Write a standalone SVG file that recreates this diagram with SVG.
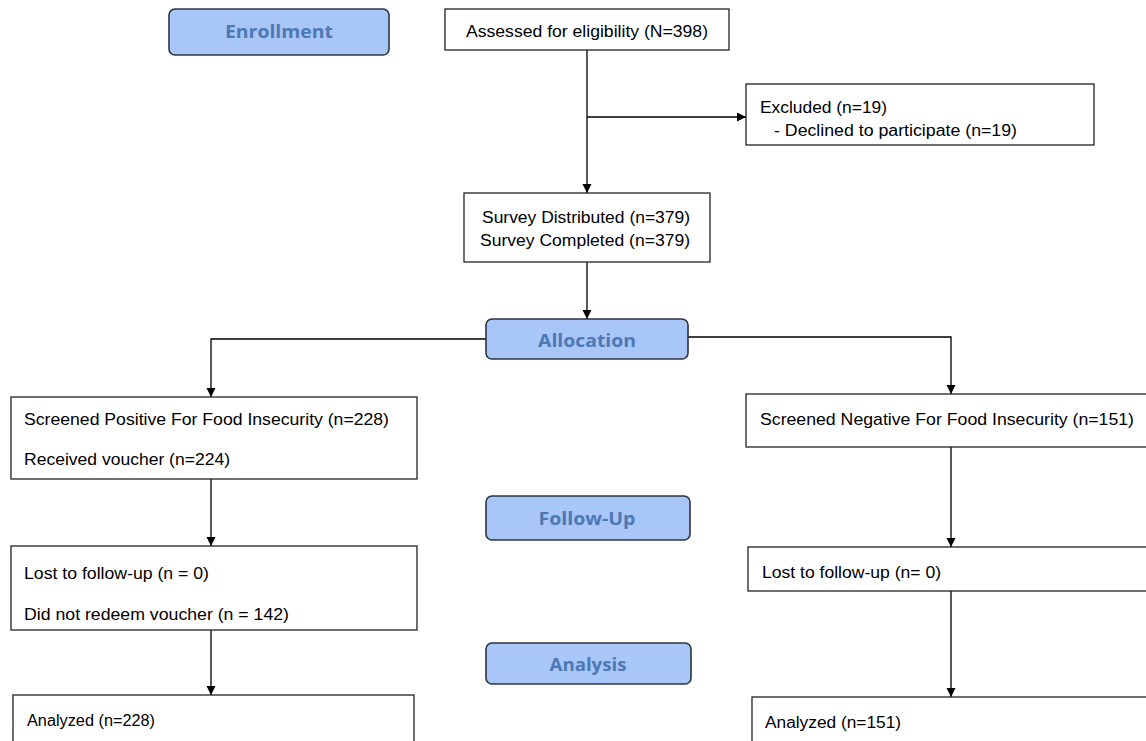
<svg xmlns="http://www.w3.org/2000/svg" width="1146" height="741" viewBox="0 0 1146 741">
<defs>
<marker id="arr" markerWidth="10" markerHeight="10" refX="9" refY="5" orient="auto" markerUnits="userSpaceOnUse">
<path d="M0,0.5 L9,5 L0,9.5 Z" fill="#000"/>
</marker>
<style>
.box{fill:#fff;stroke:#222;stroke-width:1.3}
.hdr{fill:#a8c6f8;stroke:#2b3442;stroke-width:1.6}
.t{font-family:"Liberation Sans",Arial,sans-serif;font-size:16px;fill:#000}
.h{font-family:"Open Sans","Noto Sans",sans-serif;font-weight:bold;font-size:18px;fill:#4d78b4;text-anchor:middle}
.c{fill:none;stroke:#000;stroke-width:1.3}
</style>
</defs>
<rect width="1146" height="741" fill="#fff"/>
<g id="connectors">
<path class="c" d="M587,50 V193" marker-end="url(#arr)"/>
<path class="c" d="M587,117 H746" marker-end="url(#arr)"/>
<path class="c" d="M587,262 V319" marker-end="url(#arr)"/>
<path class="c" d="M486,339 H211 V397" marker-end="url(#arr)"/>
<path class="c" d="M688,337 H951 V394" marker-end="url(#arr)"/>
<path class="c" d="M211,479 V546" marker-end="url(#arr)"/>
<path class="c" d="M211,630 V695" marker-end="url(#arr)"/>
<path class="c" d="M951,447 V547" marker-end="url(#arr)"/>
<path class="c" d="M951,591 V697" marker-end="url(#arr)"/>
</g>
<g id="enrollment"><rect class="hdr" x="169" y="9" width="220" height="46" rx="6"/><text class="h" x="279" y="38" textLength="108" lengthAdjust="spacingAndGlyphs">Enrollment</text></g>
<g id="assessed"><rect class="box" x="445" y="9" width="284" height="41"/><text class="t" x="466" y="37" textLength="242" lengthAdjust="spacingAndGlyphs">Assessed for eligibility (N=398)</text></g>
<g id="excluded"><rect class="box" x="746" y="84" width="348" height="61"/><text class="t" x="760" y="113" textLength="127" lengthAdjust="spacingAndGlyphs">Excluded (n=19)</text><text class="t" x="774" y="136" textLength="243" lengthAdjust="spacingAndGlyphs">- Declined to participate (n=19)</text></g>
<g id="survey"><rect class="box" x="464" y="193" width="246" height="69"/><text class="t" x="482" y="223" textLength="208" lengthAdjust="spacingAndGlyphs">Survey Distributed (n=379)</text><text class="t" x="480" y="246" textLength="210" lengthAdjust="spacingAndGlyphs">Survey Completed (n=379)</text></g>
<g id="allocation"><rect class="hdr" x="486" y="319" width="202" height="40" rx="6"/><text class="h" x="587" y="346.5" textLength="98" lengthAdjust="spacingAndGlyphs">Allocation</text></g>
<g id="positive"><rect class="box" x="11" y="397" width="406" height="82"/><text class="t" x="24" y="425" textLength="365" lengthAdjust="spacingAndGlyphs">Screened Positive For Food Insecurity (n=228)</text><text class="t" x="24" y="465" textLength="206" lengthAdjust="spacingAndGlyphs">Received  voucher  (n=224)</text></g>
<g id="negative"><rect class="box" x="746" y="394" width="404" height="53"/><text class="t" x="760" y="425" textLength="374" lengthAdjust="spacingAndGlyphs">Screened Negative  For Food Insecurity (n=151)</text></g>
<g id="followup"><rect class="hdr" x="486" y="496" width="204" height="44" rx="6"/><text class="h" x="587" y="525" textLength="97" lengthAdjust="spacingAndGlyphs">Follow-Up</text></g>
<g id="lost-left"><rect class="box" x="11" y="546" width="406" height="84"/><text class="t" x="24" y="579" textLength="185" lengthAdjust="spacingAndGlyphs">Lost to follow-up  (n = 0)</text><text class="t" x="24" y="620" textLength="265" lengthAdjust="spacingAndGlyphs">Did not redeem voucher  (n = 142)</text></g>
<g id="lost-right"><rect class="box" x="748" y="547" width="402" height="44"/><text class="t" x="762" y="578" textLength="179" lengthAdjust="spacingAndGlyphs">Lost to follow-up  (n= 0)</text></g>
<g id="analysis"><rect class="hdr" x="486" y="643" width="205" height="41" rx="6"/><text class="h" x="588" y="670.5" textLength="77" lengthAdjust="spacingAndGlyphs">Analysis</text></g>
<g id="analyzed-left"><rect class="box" x="13" y="695" width="401" height="52"/><text class="t" x="27" y="726" textLength="128" lengthAdjust="spacingAndGlyphs">Analyzed (n=228)</text></g>
<g id="analyzed-right"><rect class="box" x="752" y="697" width="398" height="52"/><text class="t" x="765" y="728" textLength="136" lengthAdjust="spacingAndGlyphs">Analyzed (n=151)</text></g>
</svg>
